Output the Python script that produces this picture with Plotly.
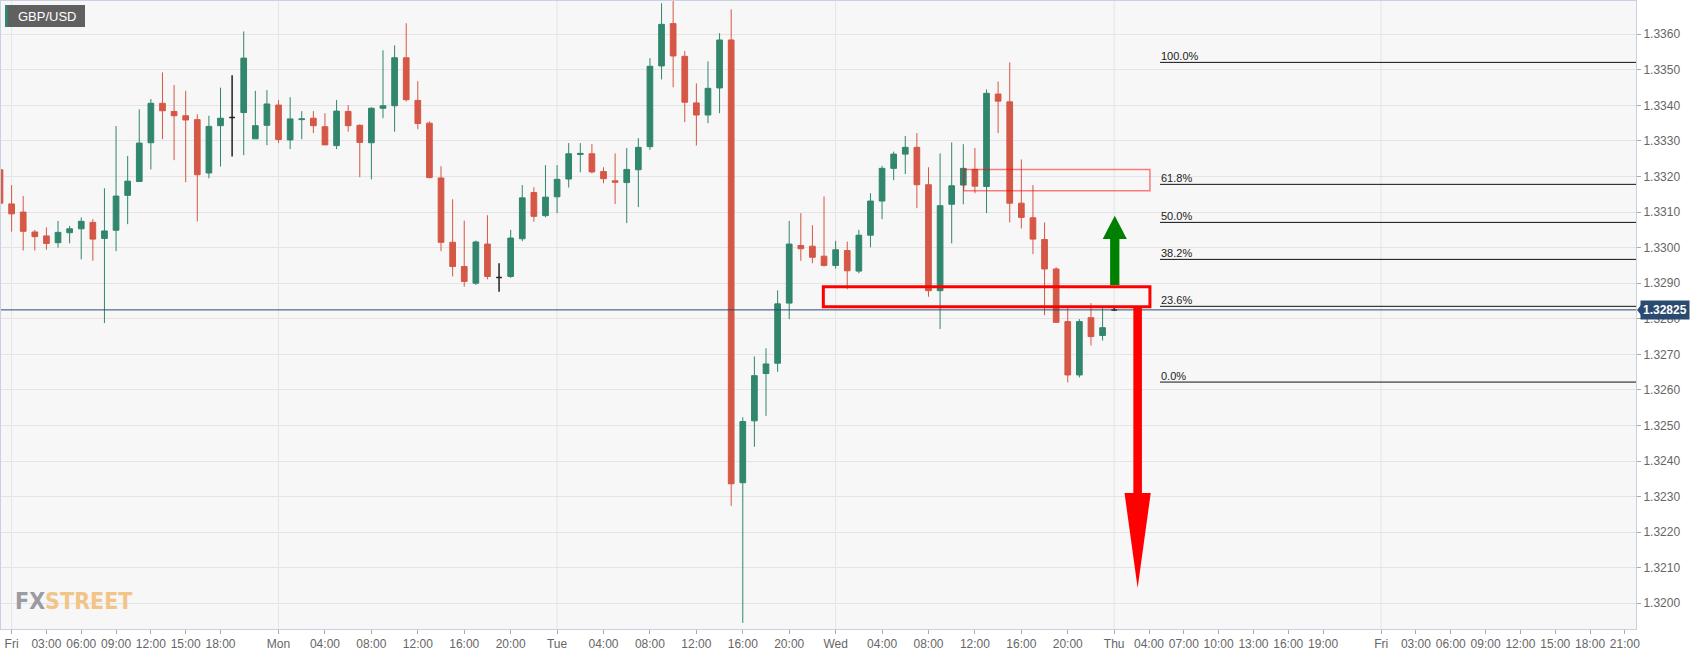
import plotly.graph_objects as go

# ---------------- data (hourly candles, slot = hour index, weekend gap removed) ----------------
slots = list(range(-1, 96))
opens = [1.33219, 1.33123, 1.33100, 1.33044, 1.33033, 1.33014, 1.33042, 1.33053, 1.33071, 1.33026,
         1.33049, 1.33147, 1.33186, 1.33295, 1.33406, 1.33383, 1.33371, 1.33360, 1.33210, 1.33343,
         1.33366, 1.33380, 1.33306, 1.33344, 1.33401, 1.33303, 1.33360, 1.33364, 1.33340, 1.33287,
         1.33383, 1.33344, 1.33295, 1.33392, 1.33399, 1.33534, 1.33414, 1.33350, 1.33196, 1.33015,
         1.32947, 1.32900, 1.33010, 1.32916, 1.32919, 1.33025, 1.33155, 1.33090, 1.33143, 1.33193,
         1.33262, 1.33264, 1.33214, 1.33188, 1.33183, 1.33219, 1.33284, 1.33511, 1.33630, 1.33538,
         1.33407, 1.33373, 1.33449, 1.33584, 1.32339, 1.32513, 1.32646, 1.32675, 1.32844, 1.33006,
         1.33004, 1.32976, 1.32950, 1.32992, 1.32934, 1.33035, 1.33131, 1.33223, 1.33263, 1.33282,
         1.33177, 1.32879, 1.33122, 1.33176, 1.33220, 1.33172, 1.33432, 1.33410, 1.33125, 1.33084,
         1.33023, 1.32940, 1.32792, 1.32642, 1.32803, 1.32753, 1.32825]
highs = [1.33230, 1.33176, 1.33145, 1.33050, 1.33057, 1.33075, 1.33061, 1.33085, 1.33080, 1.33167,
         1.33342, 1.33258, 1.33389, 1.33418, 1.33493, 1.33457, 1.33441, 1.33375, 1.33371, 1.33450,
         1.33485, 1.33608, 1.33441, 1.33443, 1.33415, 1.33423, 1.33384, 1.33384, 1.33378, 1.33415,
         1.33401, 1.33347, 1.33395, 1.33555, 1.33569, 1.33631, 1.33468, 1.33355, 1.33229, 1.33136,
         1.33076, 1.33020, 1.33091, 1.32956, 1.33050, 1.33176, 1.33170, 1.33232, 1.33232, 1.33294,
         1.33294, 1.33291, 1.33226, 1.33265, 1.33280, 1.33308, 1.33533, 1.33687, 1.33700, 1.33553,
         1.33462, 1.33524, 1.33603, 1.33670, 1.32523, 1.32694, 1.32717, 1.32880, 1.33075, 1.33097,
         1.33063, 1.33144, 1.33019, 1.33017, 1.33050, 1.33153, 1.33230, 1.33270, 1.33314, 1.33322,
         1.33226, 1.33265, 1.33296, 1.33291, 1.33280, 1.33445, 1.33467, 1.33521, 1.33248, 1.33176,
         1.33071, 1.32945, 1.32830, 1.32799, 1.32844, 1.32830, 1.32830]
lows = [1.33110, 1.33045, 1.32992, 1.32992, 1.32994, 1.33000, 1.33012, 1.32967, 1.32963, 1.32788,
        1.32990, 1.33066, 1.33186, 1.33220, 1.33305, 1.33246, 1.33184, 1.33074, 1.33195, 1.33228,
        1.33256, 1.33260, 1.33306, 1.33288, 1.33294, 1.33277, 1.33305, 1.33322, 1.33289, 1.33277,
        1.33326, 1.33198, 1.33192, 1.33364, 1.33326, 1.33411, 1.33333, 1.33195, 1.32990, 1.32919,
        1.32890, 1.32895, 1.32911, 1.32876, 1.32915, 1.33018, 1.33073, 1.33085, 1.33097, 1.33169,
        1.33212, 1.33209, 1.33181, 1.33123, 1.33069, 1.33114, 1.33275, 1.33473, 1.33451, 1.33353,
        1.33287, 1.33350, 1.33378, 1.32274, 1.31945, 1.32440, 1.32527, 1.32651, 1.32799, 1.32963,
        1.32956, 1.32947, 1.32941, 1.32883, 1.32928, 1.33001, 1.33080, 1.33190, 1.33207, 1.33111,
        1.32862, 1.32771, 1.33012, 1.33122, 1.33153, 1.33097, 1.33322, 1.33071, 1.33054, 1.32982,
        1.32810, 1.32790, 1.32621, 1.32635, 1.32725, 1.32739, 1.32822]
closes = [1.33125, 1.33095, 1.33046, 1.33031, 1.33012, 1.33043, 1.33053, 1.33074, 1.33024, 1.33047,
          1.33145, 1.33187, 1.33294, 1.33406, 1.33385, 1.33371, 1.33359, 1.33205, 1.33341, 1.33364,
          1.33366, 1.33533, 1.33343, 1.33404, 1.33304, 1.33362, 1.33362, 1.33343, 1.33289, 1.33384,
          1.33343, 1.33296, 1.33392, 1.33399, 1.33534, 1.33416, 1.33349, 1.33197, 1.33015, 1.32947,
          1.32905, 1.33016, 1.32919, 1.32916, 1.33027, 1.33140, 1.33088, 1.33142, 1.33192, 1.33264,
          1.33265, 1.33213, 1.33194, 1.33184, 1.33220, 1.33282, 1.33510, 1.33628, 1.33539, 1.33409,
          1.33373, 1.33448, 1.33584, 1.32336, 1.32511, 1.32640, 1.32673, 1.32842, 1.33010, 1.32997,
          1.32973, 1.32950, 1.32994, 1.32935, 1.33035, 1.33131, 1.33223, 1.33263, 1.33282, 1.33177,
          1.32879, 1.33118, 1.33174, 1.33223, 1.33173, 1.33434, 1.33412, 1.33125, 1.33085, 1.33024,
          1.32940, 1.32790, 1.32642, 1.32792, 1.32750, 1.32775, 1.32825]

tick_slots = [0, 3, 6, 9, 12, 15, 18, 23, 27, 31, 35, 39, 43, 47, 51, 55, 59, 63, 67, 71,
              75, 79, 83, 87, 91, 95, 98, 101, 104, 107, 110, 113, 118, 121, 124, 127, 130, 133, 136, 139]
tick_labels = ["Fri", "03:00", "06:00", "09:00", "12:00", "15:00", "18:00", "Mon", "04:00", "08:00",
               "12:00", "16:00", "20:00", "Tue", "04:00", "08:00", "12:00", "16:00", "20:00", "Wed",
               "04:00", "08:00", "12:00", "16:00", "20:00", "Thu", "04:00", "07:00", "10:00", "13:00",
               "16:00", "19:00", "Fri", "03:00", "06:00", "09:00", "12:00", "15:00", "18:00", "21:00"]
day_slots = [0, 23, 47, 71, 95, 118]

fib_labels = ["100.0%", "61.8%", "50.0%", "38.2%", "23.6%", "0.0%"]
fib_prices = [1.33521, 1.33178, 1.33071, 1.32967, 1.32835, 1.32622]
fib_start = 98.95

last_price = 1.32825
symbol = "GBP/USD"

# zones / arrows (slot, price)
zone_light = dict(x0=82.04, x1=98.08, y0=1.33160, y1=1.33220)
zone_main = dict(x0=69.94, x1=98.08, y0=1.32834, y1=1.32890)
up_arrow = dict(xc=95.05, shaft_half=0.40, head_half=1.04, base=1.32895, neck=1.33024, tip=1.33090)
down_arrow = dict(xc=97.02, shaft_half=0.37, head_half=1.13, base=1.32834, neck=1.32310, tip=1.32043)

# ---------------- figure ----------------
X_RANGE = [-0.913, 139.96]
Y_RANGE = [1.319276, 1.336936]
GREEN = "#31866e"
RED = "#d55745"
FONT = "Liberation Sans, Arial, sans-serif"

norm_idx = [i for i in range(len(slots)) if opens[i] != closes[i]]
doji_idx = [i for i in range(len(slots)) if opens[i] == closes[i]]

fig = go.Figure()
fig.add_trace(go.Candlestick(
    x=[slots[i] for i in norm_idx], open=[opens[i] for i in norm_idx],
    high=[highs[i] for i in norm_idx], low=[lows[i] for i in norm_idx],
    close=[closes[i] for i in norm_idx],
    increasing=dict(line=dict(color=GREEN, width=1), fillcolor=GREEN),
    decreasing=dict(line=dict(color=RED, width=1), fillcolor=RED),
    hoverinfo="skip", showlegend=False))
fig.add_trace(go.Candlestick(
    x=[slots[i] for i in doji_idx], open=[opens[i] for i in doji_idx],
    high=[highs[i] for i in doji_idx], low=[lows[i] for i in doji_idx],
    close=[closes[i] for i in doji_idx],
    increasing=dict(line=dict(color="#222222", width=1.5), fillcolor="#666666"),
    decreasing=dict(line=dict(color="#222222", width=1.5), fillcolor="#666666"),
    hoverinfo="skip", showlegend=False))

shapes = []
for s in day_slots:
    shapes.append(dict(type="line", xref="x", yref="paper", x0=s, x1=s, y0=0, y1=1,
                       line=dict(color="#e4e4e4", width=1), layer="below"))
# current price line
shapes.append(dict(type="line", xref="x", yref="y", x0=X_RANGE[0] - 2, x1=X_RANGE[1] + 2,
                   y0=last_price, y1=last_price, line=dict(color="#2b4a6f", width=1)))
# fib lines
for p in fib_prices:
    shapes.append(dict(type="line", xref="x", yref="y", x0=fib_start, x1=X_RANGE[1] + 2,
                       y0=p, y1=p, line=dict(color="#111111", width=1)))
# zones
shapes.append(dict(type="rect", xref="x", yref="y", **zone_light,
                   line=dict(color="rgba(255,0,0,0.5)", width=1.5)))
shapes.append(dict(type="rect", xref="x", yref="y", **zone_main,
                   line=dict(color="#ff0000", width=3)))


def arrow_path(a):
    xc, sh, hh = a["xc"], a["shaft_half"], a["head_half"]
    return (f"M {xc - sh},{a['base']} L {xc + sh},{a['base']} L {xc + sh},{a['neck']} "
            f"L {xc + hh},{a['neck']} L {xc},{a['tip']} L {xc - hh},{a['neck']} "
            f"L {xc - sh},{a['neck']} Z")


shapes.append(dict(type="path", xref="x", yref="y", path=arrow_path(up_arrow),
                   fillcolor="#008000", line=dict(width=0)))
shapes.append(dict(type="path", xref="x", yref="y", path=arrow_path(down_arrow),
                   fillcolor="#ff0000", line=dict(width=0)))

# symbol badge
shapes.append(dict(type="rect", xref="paper", yref="paper", xsizemode="pixel", ysizemode="pixel",
                   xanchor=0, yanchor=1, x0=4, x1=84, y0=-4, y1=-26,
                   fillcolor="#606060", line=dict(width=0)))
shapes.append(dict(type="rect", xref="paper", yref="paper", xsizemode="pixel", ysizemode="pixel",
                   xanchor=0, yanchor=1, x0=4, x1=6.5, y0=-4, y1=-26,
                   fillcolor="#2e8b6e", line=dict(width=0)))
# price label pointer
yfrac = (last_price - Y_RANGE[0]) / (Y_RANGE[1] - Y_RANGE[0])
shapes.append(dict(type="path", xref="paper", yref="paper", xsizemode="pixel", ysizemode="pixel",
                   xanchor=1, yanchor=yfrac, path="M 1,0 L 5,-5 L 5,5 Z",
                   fillcolor="#2b4a6f", line=dict(width=0)))

annotations = []
for lab, p in zip(fib_labels, fib_prices):
    annotations.append(dict(x=fib_start, y=p, xref="x", yref="y", text=lab, showarrow=False,
                            xanchor="left", yanchor="bottom", yshift=-2, xshift=-1,
                            font=dict(family=FONT, size=11, color="#222222")))
annotations.append(dict(x=1, y=last_price, xref="paper", yref="y", text="<b>1.32825</b>",
                        showarrow=False, xanchor="left", yanchor="middle", xshift=4,
                        bgcolor="#2b4a6f", borderpad=2,
                        font=dict(family=FONT, size=12, color="white")))
annotations.append(dict(x=0, y=1, xref="paper", yref="paper", text=symbol, showarrow=False,
                        xanchor="left", yanchor="middle", xshift=15, yshift=-15,
                        font=dict(family=FONT, size=13, color="white")))
annotations.append(dict(x=0, y=0, xref="paper", yref="paper",
                        text='<b><span style="color:#9b9ba3">FX</span>'
                             '<span style="color:#f2c488">STREET</span></b>',
                        showarrow=False, xanchor="left", yanchor="middle", xshift=12, yshift=28,
                        font=dict(family="Liberation Sans Narrow, DejaVu Sans Condensed, sans-serif",
                                  size=23)))

fig.update_layout(
    width=1707, height=655, autosize=False,
    margin=dict(l=1, r=71, t=1, b=26, pad=0),
    paper_bgcolor="white", plot_bgcolor="#f7f7f7",
    shapes=shapes, annotations=annotations, showlegend=False,
    hovermode=False,
    xaxis=dict(range=X_RANGE, tickmode="array", tickvals=tick_slots, ticktext=tick_labels,
               showgrid=False, zeroline=False, ticks="outside", ticklen=4, tickcolor="#aaaaaa",
               tickfont=dict(family=FONT, size=12, color="#666666"),
               showline=True, linecolor="#c8d0e2", mirror=True,
               rangeslider=dict(visible=False), fixedrange=True),
    yaxis=dict(range=Y_RANGE, side="right", tick0=1.32, dtick=0.001, tickformat=".4f",
               showgrid=True, gridcolor="#e4e4e4", zeroline=False,
               ticks="outside", ticklen=4, tickcolor="#aaaaaa",
               tickfont=dict(family=FONT, size=12, color="#666666"),
               showline=True, linecolor="#c8d0e2", mirror=True, fixedrange=True),
)

fig.write_html("out.html", config={"displayModeBar": False},
               post_script="document.body.style.margin='0';document.body.style.padding='0';"
                           "document.body.style.overflow='hidden';")
